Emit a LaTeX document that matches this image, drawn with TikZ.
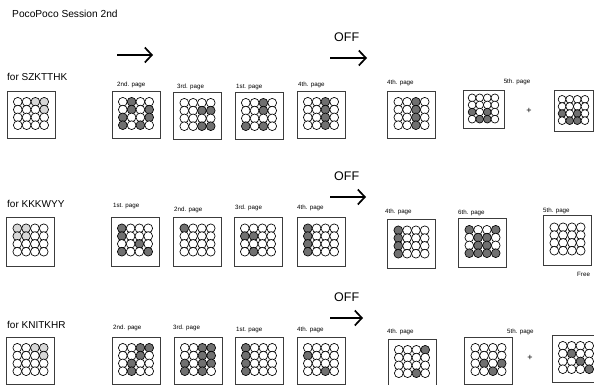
\documentclass[tikz,border=0pt]{standalone}
\usepackage{fontspec}
\setmainfont{Liberation Sans}
\usetikzlibrary{arrows.meta}
\definecolor{c0}{RGB}{255,255,255}
\definecolor{c1}{RGB}{112,112,112}
\definecolor{c2}{RGB}{216,216,216}
\definecolor{boxline}{RGB}{60,60,60}
% #1 node, #2 radius, #3 h pitch, #4 v pitch, #5 pattern rows
\newcommand\pgrid[5]{%
  \begin{scope}[shift={(#1.center)}]
    \foreach \prow [count=\pj] in {#5} {
      \foreach \pv [count=\pi] in \prow {
        \draw[dot, fill=c\pv] ({(\pi-2.5)*#3},{(\pj-2.5)*#4-1.5}) circle[radius=#2];
      }
    }
  \end{scope}}
\newcommand\ngrid[2]{\pgrid{#1}{4.4pt}{8.8}{7.8}{#2}}
\newcommand\sgrid[2]{\pgrid{#1}{3.9pt}{7.6}{7.1}{#2}}
\begin{document}
\begin{tikzpicture}[x=1pt,y=-1pt,
  pbox/.style={draw=boxline,line width=1pt,minimum width=48pt,minimum height=47pt,inner sep=0pt},
  dot/.style={draw=black,line width=0.65pt},
  plabel/.style={font=\fontsize{6.2}{7}\selectfont,anchor=west,inner sep=0pt},
  rowlabel/.style={font=\fontsize{10}{12}\selectfont,anchor=west,inner sep=0pt},
  offlabel/.style={font=\fontsize{12.5}{14}\selectfont,anchor=west,inner sep=0pt},
  plus/.style={font=\fontsize{9}{10}\selectfont,inner sep=0pt},
  arr/.style={line width=1.7pt,-{Straight Barb[length=7pt,width=15pt,line width=1.7pt]}}]
\useasboundingbox (0,0) rectangle (594,385);

\node[rowlabel,font=\fontsize{10.2}{12}\selectfont] (title) at (12,14) {PocoPoco Session 2nd};

% ---------------- Row 1 ----------------
\coordinate (a1s) at (117,55); \coordinate (a1e) at (153,55);
\draw[arr] (a1s) -- (a1e);
\node[offlabel] (off1) at (334,37) {OFF};
\coordinate (o1s) at (330,58); \coordinate (o1e) at (367,58);
\draw[arr] (o1s) -- (o1e);
\node[rowlabel] (for1) at (7,77) {for SZKTTHK};

\node[pbox] (r1l) at (31,115) {};
\node[pbox] (r1a) at (136,115) {};
\node[pbox] (r1b) at (197.5,116) {};
\node[pbox] (r1c) at (259,116) {};
\node[pbox] (r1d) at (321,115) {};
\node[pbox] (r1e) at (411.5,115) {};
\node[pbox,minimum width=41pt,minimum height=38pt] (r1f) at (483.5,110) {};
\node[pbox,minimum width=39pt,minimum height=41pt] (r1g) at (573.5,111.5) {};
\node[plus] (plus1) at (529,111) {+};

\node[plabel] (r1la) at (117,85) {2nd. page};
\node[plabel] (r1lb) at (177,87) {3rd. page};
\node[plabel] (r1lc) at (236,87) {1st. page};
\node[plabel] (r1ld) at (298,85) {4th. page};
\node[plabel] (r1le) at (387,83) {4th. page};
\node[plabel,anchor=center] (r1lf) at (517,82) {5th. page};

\ngrid{r1l}{{0,0,2,2},{0,0,0,2},{0,0,0,0},{0,0,0,0}}
\ngrid{r1a}{{0,1,0,0},{0,1,0,1},{1,0,0,1},{1,0,1,0}}
\ngrid{r1b}{{0,0,0,0},{0,0,1,1},{0,0,0,0},{0,0,1,1}}
\ngrid{r1c}{{0,0,1,0},{0,0,1,0},{0,0,0,0},{1,0,1,0}}
\ngrid{r1d}{{0,0,1,0},{0,0,1,0},{0,0,1,0},{0,0,1,0}}
\ngrid{r1e}{{0,0,1,0},{0,0,1,0},{0,0,1,0},{0,0,1,0}}
\sgrid{r1f}{{0,0,0,0},{0,0,0,0},{1,0,1,0},{0,1,1,0}}
\sgrid{r1g}{{0,0,0,0},{0,0,0,0},{1,0,1,0},{0,1,1,0}}

% ---------------- Row 2 ----------------
\node[offlabel] (off2) at (334,176) {OFF};
\coordinate (o2s) at (330,197); \coordinate (o2e) at (366,197);
\draw[arr] (o2s) -- (o2e);
\node[rowlabel] (for2) at (7,204) {for KKKWYY};

\node[pbox,minimum height=49pt] (r2l) at (30.5,241.5) {};
\node[pbox,minimum height=49pt] (r2a) at (135,241.5) {};
\node[pbox,minimum height=49pt] (r2b) at (197.5,241.5) {};
\node[pbox,minimum height=49pt] (r2c) at (258,241.5) {};
\node[pbox,minimum height=49pt] (r2d) at (321,241.5) {};
\node[pbox,minimum height=49pt] (r2e) at (411.5,243.5) {};
\node[pbox,minimum height=49pt] (r2f) at (482.5,243) {};
\node[pbox,minimum height=50pt] (r2g) at (567.5,240.5) {};

\node[plabel] (r2la) at (113,206) {1st. page};
\node[plabel] (r2lb) at (174,210) {2nd. page};
\node[plabel] (r2lc) at (235,208) {3rd. page};
\node[plabel] (r2ld) at (297,208) {4th. page};
\node[plabel] (r2le) at (385,212) {4th. page};
\node[plabel] (r2lf) at (458,213) {6th. page};
\node[plabel] (r2lg) at (543,211) {5th. page};
\node[plabel] (free) at (577,274) {Free};

\ngrid{r2l}{{2,2,0,0},{2,2,0,0},{0,0,0,0},{0,0,0,0}}
\ngrid{r2a}{{1,0,0,0},{1,0,0,0},{0,0,1,0},{1,0,0,1}}
\ngrid{r2b}{{1,0,0,0},{0,0,0,0},{0,0,0,0},{0,0,0,0}}
\ngrid{r2c}{{0,0,0,0},{1,1,0,0},{0,0,0,0},{0,1,0,0}}
\ngrid{r2d}{{1,0,0,0},{1,0,0,0},{1,0,0,0},{1,0,0,0}}
\ngrid{r2e}{{1,0,0,0},{1,0,0,0},{1,0,0,0},{1,0,0,0}}
\ngrid{r2f}{{1,0,0,1},{0,1,1,0},{0,1,1,0},{1,1,1,1}}
\ngrid{r2g}{{0,0,0,0},{0,0,0,0},{0,0,0,0},{0,0,0,0}}

% ---------------- Row 3 ----------------
\node[offlabel] (off3) at (334,297) {OFF};
\coordinate (o3s) at (330,318); \coordinate (o3e) at (363,318);
\draw[arr] (o3s) -- (o3e);
\node[rowlabel] (for3) at (7,325) {for KNITKHR};

\node[pbox] (r3l) at (30.5,361) {};
\node[pbox] (r3a) at (136,361) {};
\node[pbox] (r3b) at (198,361) {};
\node[pbox] (r3c) at (259,361) {};
\node[pbox] (r3d) at (321,361) {};
\node[pbox] (r3e) at (412,363) {};
\node[pbox] (r3f) at (488.5,361) {};
\node[pbox] (r3g) at (576,359) {};
\node[plus] (plus3) at (530,358) {+};

\node[plabel] (r3la) at (113,328) {2nd. page};
\node[plabel] (r3lb) at (173,328) {3rd. page};
\node[plabel] (r3lc) at (236,330) {1st. page};
\node[plabel] (r3ld) at (297,330) {4th. page};
\node[plabel] (r3le) at (387,332) {4th. page};
\node[plabel] (r3lf) at (507,332) {5th. page};

\ngrid{r3l}{{0,0,2,2},{0,0,0,2},{0,0,0,0},{0,0,0,0}}
\ngrid{r3a}{{0,0,1,1},{0,0,1,0},{0,1,0,0},{0,1,0,0}}
\ngrid{r3b}{{0,0,1,1},{0,0,1,1},{1,0,1,1},{1,0,1,0}}
\ngrid{r3c}{{1,0,0,0},{1,0,0,0},{1,0,0,0},{1,0,0,0}}
\ngrid{r3d}{{0,0,0,0},{1,0,0,0},{0,0,0,0},{0,0,1,0}}
\ngrid{r3e}{{0,0,0,1},{0,0,0,0},{0,0,0,0},{0,0,1,0}}
\ngrid{r3f}{{0,0,0,0},{0,0,0,0},{0,1,0,1},{0,0,1,0}}
\ngrid{r3g}{{0,0,0,0},{0,1,0,0},{0,0,1,0},{0,0,0,1}}
\end{tikzpicture}
\end{document}
